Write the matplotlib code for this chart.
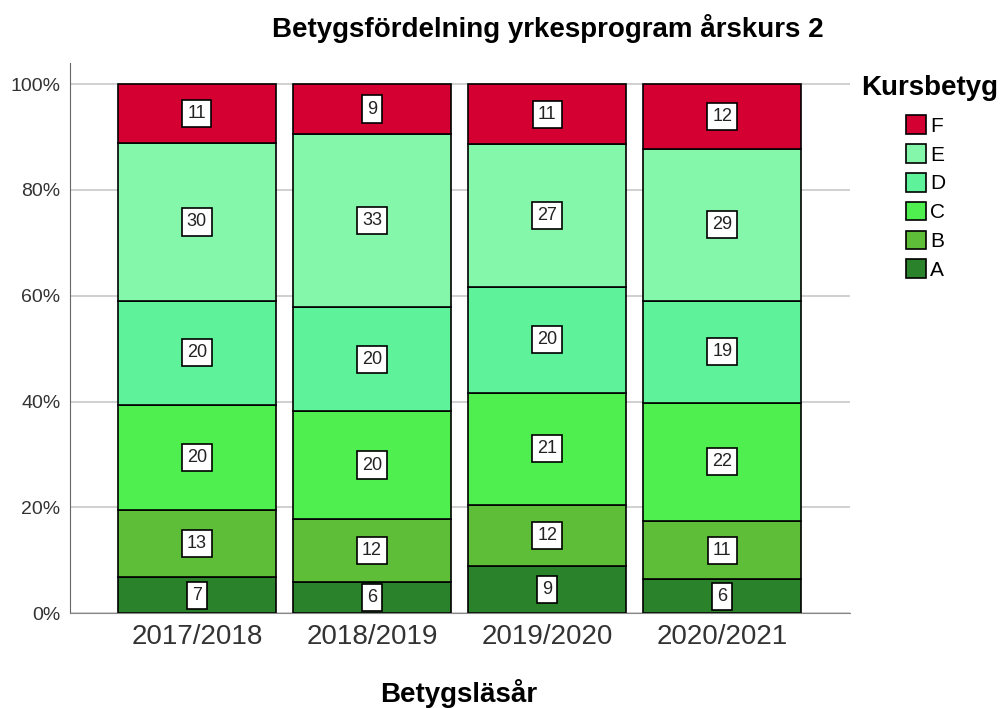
import numpy as np
import matplotlib.pyplot as plt

plt.rcParams["font.family"] = ["Liberation Sans", "DejaVu Sans"]

years = ["2017/2018", "2018/2019", "2019/2020", "2020/2021"]
grades = ["A", "B", "C", "D", "E", "F"]
# percentages (A..F per year)
pct_A = [6.8, 5.9, 8.9, 6.4]
pct_B = [12.7, 11.9, 11.6, 11.0]
pct_C = [19.9, 20.4, 21.2, 22.4]
pct_D = [19.7, 19.6, 19.9, 19.3]
pct_E = [29.7, 32.8, 27.0, 28.6]
pct_F = [11.2, 9.4, 11.4, 12.3]
colors = ["#2a832b", "#5ebe38", "#50ef50", "#5ef39b", "#84f7aa", "#d40031"]

series = [pct_A, pct_B, pct_C, pct_D, pct_E, pct_F]

fig = plt.figure(figsize=(10, 7.08), dpi=100)
ax = fig.add_axes([0.07, 0.134, 0.78, 0.777])

x = np.arange(len(years))
bottom = np.zeros(len(years))
handles = []
for g, vals, c in zip(grades, series, colors):
    vals = np.array(vals)
    b = ax.bar(x, vals, 0.9, bottom=bottom, color=c, edgecolor="black",
               linewidth=1.2, label=g, zorder=2)
    handles.append(b)
    for xi, v, bt in zip(x, vals, bottom):
        ax.text(xi, bt + v / 2, f"{round(v)}", ha="center", va="center",
                fontsize=13, zorder=4, color="#222222",
                bbox=dict(boxstyle="square,pad=0.28", fc="white", ec="black", lw=1.2))
    bottom += vals

ax.set_xlim(-0.724, 3.729)
ax.set_ylim(0, 104)
ax.set_yticks([0, 20, 40, 60, 80, 100])
ax.set_yticklabels(["0%", "20%", "40%", "60%", "80%", "100%"], fontsize=14, color="#333333")
ax.set_xticks(x)
ax.set_xticklabels(years, fontsize=20, color="#333333")
ax.tick_params(axis="x", length=0, pad=8)
ax.tick_params(axis="y", length=0, pad=7)
ax.grid(axis="y", color="#c8c8c8", linewidth=1.2, zorder=0)
for s in ["top", "right"]:
    ax.spines[s].set_visible(False)
ax.spines["left"].set_color("#666666")
ax.spines["bottom"].set_color("#888888")

fig.text(0.548, 0.96, "Betygsfördelning yrkesprogram årskurs 2", ha="center",
         va="center", fontsize=20, fontweight="bold")
fig.text(0.459, 0.02, "Betygsläsår", ha="center", va="center", fontsize=20,
         fontweight="bold")

fig.text(0.861, 0.876, "Kursbetyg", ha="left", va="center", fontsize=20,
         fontweight="bold")
fig.legend(handles[::-1], grades[::-1], loc="upper left",
           bbox_to_anchor=(0.906, 0.837), frameon=False, fontsize=15,
           handlelength=0.95, handleheight=1.0, handletextpad=0.2,
           labelspacing=0.4, borderaxespad=0, borderpad=0)

fig.savefig("out.png", dpi=100)
